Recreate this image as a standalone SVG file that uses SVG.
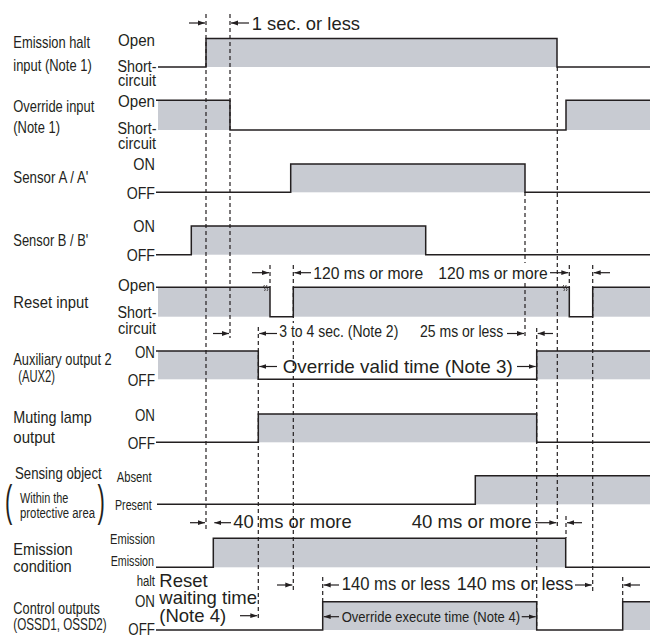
<svg xmlns="http://www.w3.org/2000/svg" width="656" height="637" viewBox="0 0 656 637">
<style>
.t{font-family:"Liberation Sans",Arial,sans-serif;fill:#231f20}
.L{font-size:17px}
.M{font-size:16px}
.S{font-size:14px}
.e{text-anchor:end}
.sig{fill:none;stroke:#231f20;stroke-width:1.5}
.sh{fill:#c8cbd2}
.dash{fill:none;stroke:#231f20;stroke-width:1.2;stroke-dasharray:4 3}
.arr{fill:none;stroke:#231f20;stroke-width:1.2;marker-end:url(#ah)}
.sq{fill:none;stroke:#231f20;stroke-width:0.8}
</style>
<defs>
<marker id="ah" markerUnits="userSpaceOnUse" markerWidth="7" markerHeight="6" refX="7" refY="3" orient="auto">
<path d="M0,0.6 L7,3 L0,5.4 z" fill="#231f20"/>
</marker>
</defs>
<rect width="656" height="637" fill="#fff"/>

<g id="emission-halt">
<rect class="sh" x="206" y="38.5" width="351" height="28.5"/>
<path class="sig" d="M158,67 H206 V38.5 H557 V67 H650"/>
<text class="t L" x="13.3" y="48.3" textLength="76.7" lengthAdjust="spacingAndGlyphs">Emission halt</text>
<text class="t L" x="13.3" y="70.7" textLength="78.4" lengthAdjust="spacingAndGlyphs">input (Note 1)</text>
<text class="t L e" x="155" y="46" textLength="37" lengthAdjust="spacingAndGlyphs">Open</text>
<text class="t M e" x="156.5" y="71.5" textLength="39" lengthAdjust="spacingAndGlyphs">Short-</text>
<text class="t M e" x="156" y="86" textLength="38" lengthAdjust="spacingAndGlyphs">circuit</text>
</g>

<g id="override-input">
<rect class="sh" x="158" y="100.3" width="72" height="29.7"/>
<rect class="sh" x="566" y="100.3" width="84" height="29.7"/>
<path class="sig" d="M156,100.3 H230 V130 H566 V100.3 H650"/>
<text class="t L" x="13.3" y="111.5" textLength="81" lengthAdjust="spacingAndGlyphs">Override input</text>
<text class="t L" x="13.3" y="132.7" textLength="46.7" lengthAdjust="spacingAndGlyphs">(Note 1)</text>
<text class="t L e" x="155" y="107" textLength="37" lengthAdjust="spacingAndGlyphs">Open</text>
<text class="t M e" x="156.5" y="134" textLength="39" lengthAdjust="spacingAndGlyphs">Short-</text>
<text class="t M e" x="156" y="148.5" textLength="38" lengthAdjust="spacingAndGlyphs">circuit</text>
</g>

<g id="sensor-a">
<rect class="sh" x="290.7" y="164" width="234.3" height="28.3"/>
<path class="sig" d="M156,192.3 H290.7 V164 H525 V192.3 H650"/>
<text class="t L" x="13.3" y="183.3" textLength="75" lengthAdjust="spacingAndGlyphs">Sensor A / A'</text>
<text class="t L e" x="155" y="170" textLength="21.7" lengthAdjust="spacingAndGlyphs">ON</text>
<text class="t L e" x="155" y="198.5" textLength="28.3" lengthAdjust="spacingAndGlyphs">OFF</text>
</g>

<g id="sensor-b">
<rect class="sh" x="191.3" y="226" width="234.4" height="28.7"/>
<path class="sig" d="M156,254.7 H191.3 V226 H425.7 V254.7 H650"/>
<text class="t L" x="13.3" y="246" textLength="75" lengthAdjust="spacingAndGlyphs">Sensor B / B'</text>
<text class="t L e" x="155" y="232" textLength="21.7" lengthAdjust="spacingAndGlyphs">ON</text>
<text class="t L e" x="155" y="260.5" textLength="28.3" lengthAdjust="spacingAndGlyphs">OFF</text>
</g>

<g id="reset-input">
<rect class="sh" x="158" y="287.3" width="112" height="29.4"/>
<rect class="sh" x="293.3" y="287.3" width="276" height="29.4"/>
<rect class="sh" x="592.7" y="287.3" width="57.3" height="29.4"/>
<path class="sig" d="M156,287.3 H270 V316.7 H293.3 V287.3 H569.3 V316.7 H592.7 V287.3 H650"/>
<path class="sq" d="M264.5,291 q1.6,-1.5 0,-3 q-1.6,-1.5 0,-3 M267,291 q1.6,-1.5 0,-3 q-1.6,-1.5 0,-3"/>
<path class="sq" d="M563.8,291 q1.6,-1.5 0,-3 q-1.6,-1.5 0,-3 M566.3,291 q1.6,-1.5 0,-3 q-1.6,-1.5 0,-3"/>
<text class="t L" x="13.3" y="308.3" textLength="75" lengthAdjust="spacingAndGlyphs">Reset input</text>
<text class="t L e" x="155" y="291" textLength="37" lengthAdjust="spacingAndGlyphs">Open</text>
<text class="t M e" x="156.5" y="318" textLength="39" lengthAdjust="spacingAndGlyphs">Short-</text>
<text class="t M e" x="156" y="333.5" textLength="38" lengthAdjust="spacingAndGlyphs">circuit</text>
</g>

<g id="aux-output-2">
<rect class="sh" x="158" y="351" width="100.3" height="28.3"/>
<rect class="sh" x="536.7" y="351" width="113.3" height="28.3"/>
<path class="sig" d="M156,351 H258.3 V379.3 H536.7 V351 H650"/>
<text class="t L" x="13.3" y="364.5" textLength="98.4" lengthAdjust="spacingAndGlyphs">Auxiliary output 2</text>
<text class="t L" x="18.3" y="381.5" textLength="36.7" lengthAdjust="spacingAndGlyphs">(AUX2)</text>
<text class="t L e" x="155" y="357.5" textLength="20" lengthAdjust="spacingAndGlyphs">ON</text>
<text class="t L e" x="155" y="386" textLength="27.3" lengthAdjust="spacingAndGlyphs">OFF</text>
</g>

<g id="muting-lamp">
<rect class="sh" x="258.3" y="414" width="278.4" height="28.3"/>
<path class="sig" d="M156,442.3 H258.3 V414 H536.7 V442.3 H650"/>
<text class="t L" x="13.3" y="422.5" textLength="78.4" lengthAdjust="spacingAndGlyphs">Muting lamp</text>
<text class="t L" x="13.3" y="442.5" textLength="41.7" lengthAdjust="spacingAndGlyphs">output</text>
<text class="t L e" x="155" y="421" textLength="20" lengthAdjust="spacingAndGlyphs">ON</text>
<text class="t L e" x="155" y="449" textLength="27.3" lengthAdjust="spacingAndGlyphs">OFF</text>
</g>

<g id="sensing-object">
<rect class="sh" x="475.3" y="475.7" width="174.7" height="28.6"/>
<path class="sig" d="M157,504.3 H475.3 V475.7 H650"/>
<text class="t L" x="15" y="479" textLength="86.7" lengthAdjust="spacingAndGlyphs">Sensing object</text>
<text class="t" font-size="44" transform="translate(5,516) scale(0.5,1)">(</text>
<text class="t S" x="20" y="503" textLength="48.3" lengthAdjust="spacingAndGlyphs">Within the</text>
<text class="t S" x="20" y="517.5" textLength="75" lengthAdjust="spacingAndGlyphs">protective area</text>
<text class="t" font-size="44" transform="translate(97.5,516) scale(0.5,1)">)</text>
<text class="t S e" x="151.7" y="481.5" textLength="35" lengthAdjust="spacingAndGlyphs">Absent</text>
<text class="t S e" x="151.7" y="509.5" textLength="36.7" lengthAdjust="spacingAndGlyphs">Present</text>
</g>

<g id="emission-condition">
<rect class="sh" x="213.3" y="538.3" width="352.4" height="29"/>
<path class="sig" d="M156,567.3 H213.3 V538.3 H565.7 V567.3 H650"/>
<text class="t L" x="13.3" y="555" textLength="59.4" lengthAdjust="spacingAndGlyphs">Emission</text>
<text class="t L" x="13.3" y="571.5" textLength="58.4" lengthAdjust="spacingAndGlyphs">condition</text>
<text class="t S e" x="155" y="544" textLength="45" lengthAdjust="spacingAndGlyphs">Emission</text>
<text class="t S e" x="154" y="566" textLength="43.3" lengthAdjust="spacingAndGlyphs">Emission</text>
<text class="t S e" x="155" y="585.5" textLength="18.3" lengthAdjust="spacingAndGlyphs">halt</text>
</g>

<g id="control-outputs">
<rect class="sh" x="322.7" y="601.7" width="214" height="28.3"/>
<rect class="sh" x="622.7" y="601.7" width="27.3" height="28.3"/>
<path class="sig" d="M156,630 H322.7 V601.7 H536.7 V630 H622.7 V601.7 H650"/>
<text class="t L" x="13.3" y="614" textLength="86.7" lengthAdjust="spacingAndGlyphs">Control outputs</text>
<text class="t L" x="13.3" y="629.5" textLength="93.4" lengthAdjust="spacingAndGlyphs">(OSSD1, OSSD2)</text>
<text class="t L e" x="155" y="607" textLength="20" lengthAdjust="spacingAndGlyphs">ON</text>
<text class="t L e" x="155" y="634.5" textLength="26.7" lengthAdjust="spacingAndGlyphs">OFF</text>
<text class="t S" x="341.7" y="622" textLength="178.3" lengthAdjust="spacingAndGlyphs">Override execute time (Note 4)</text>
</g>

<g id="timing-labels">
<text class="t" font-size="18.4" x="251.7" y="29.5">1 sec. or less</text>
<text class="t L" x="313.3" y="279" textLength="110" lengthAdjust="spacingAndGlyphs">120 ms or more</text>
<text class="t L" x="438.3" y="279" textLength="109.4" lengthAdjust="spacingAndGlyphs">120 ms or more</text>
<text class="t L" x="279.3" y="337" textLength="119" lengthAdjust="spacingAndGlyphs">3 to 4 sec. (Note 2)</text>
<text class="t L" x="420" y="337" textLength="83.3" lengthAdjust="spacingAndGlyphs">25 ms or less</text>
<text class="t" font-size="19" x="282.7" y="372.5" textLength="230" lengthAdjust="spacingAndGlyphs">Override valid time (Note 3)</text>
<text class="t" font-size="18.4" x="233.3" y="528" textLength="118.4" lengthAdjust="spacingAndGlyphs">40 ms or more</text>
<text class="t" font-size="18.4" x="411.7" y="528.3" textLength="120" lengthAdjust="spacingAndGlyphs">40 ms or more</text>
<text class="t" font-size="17.5" x="341.7" y="590" textLength="108.3" lengthAdjust="spacingAndGlyphs">140 ms or less</text>
<text class="t" font-size="17.5" x="456.7" y="590" textLength="116.6" lengthAdjust="spacingAndGlyphs">140 ms or less</text>
<text class="t" font-size="18.5" x="159.3" y="586.7">Reset</text>
<text class="t" font-size="18.5" x="159.3" y="603.5">waiting time</text>
<text class="t" font-size="18.5" x="159.3" y="622">(Note 4)</text>
</g>

<g id="connectors">
<line class="dash" x1="206" y1="14" x2="206" y2="532"/>
<line class="dash" x1="230" y1="14" x2="230" y2="338"/>
<line class="dash" x1="258.3" y1="327" x2="258.3" y2="620"/>
<line class="dash" x1="270" y1="265" x2="270" y2="287"/>
<line class="dash" x1="293.3" y1="265" x2="293.3" y2="323"/>
<line class="dash" x1="293.3" y1="341" x2="293.3" y2="591"/>
<line class="dash" x1="322.7" y1="577" x2="322.7" y2="602"/>
<line class="dash" x1="525" y1="192" x2="525" y2="263"/>
<line class="dash" x1="525" y1="283" x2="525" y2="339"/>
<line class="dash" x1="536.7" y1="328" x2="536.7" y2="630"/>
<line class="dash" x1="557.3" y1="67" x2="557.3" y2="528"/>
<line class="dash" x1="566" y1="516" x2="566" y2="538"/>
<line class="dash" x1="569.3" y1="265" x2="569.3" y2="287"/>
<line class="dash" x1="592.7" y1="265" x2="592.7" y2="591"/>
<line class="dash" x1="622.7" y1="577" x2="622.7" y2="602"/>

<line class="arr" x1="189" y1="23" x2="205" y2="23"/>
<line class="arr" x1="249" y1="23" x2="231" y2="23"/>
<line class="arr" x1="252" y1="272.7" x2="269" y2="272.7"/>
<line class="arr" x1="311" y1="272.7" x2="294.3" y2="272.7"/>
<line class="arr" x1="550" y1="272.7" x2="568.3" y2="272.7"/>
<line class="arr" x1="610" y1="272.7" x2="593.7" y2="272.7"/>
<line class="arr" x1="213" y1="333.5" x2="229" y2="333.5"/>
<line class="arr" x1="277" y1="333.5" x2="259.3" y2="333.5"/>
<line class="arr" x1="507" y1="333.5" x2="524" y2="333.5"/>
<line class="arr" x1="553" y1="333.5" x2="537.7" y2="333.5"/>
<line class="arr" x1="277" y1="366.5" x2="259.3" y2="366.5"/>
<line class="arr" x1="517" y1="366.5" x2="535.7" y2="366.5"/>
<line class="arr" x1="190" y1="522.7" x2="205" y2="522.7"/>
<line class="arr" x1="231" y1="522.7" x2="214.3" y2="522.7"/>
<line class="arr" x1="535" y1="522.7" x2="556.3" y2="522.7"/>
<line class="arr" x1="582" y1="522.7" x2="567" y2="522.7"/>
<line class="arr" x1="277" y1="585" x2="292.3" y2="585"/>
<line class="arr" x1="339" y1="585" x2="323.7" y2="585"/>
<line class="arr" x1="575" y1="585" x2="591.7" y2="585"/>
<line class="arr" x1="640" y1="585" x2="623.7" y2="585"/>
<line class="arr" x1="240" y1="615.7" x2="257.3" y2="615.7"/>
<line class="arr" x1="339" y1="616.7" x2="323.7" y2="616.7"/>
<line class="arr" x1="521.7" y1="616.7" x2="535.7" y2="616.7"/>
</g>
</svg>
